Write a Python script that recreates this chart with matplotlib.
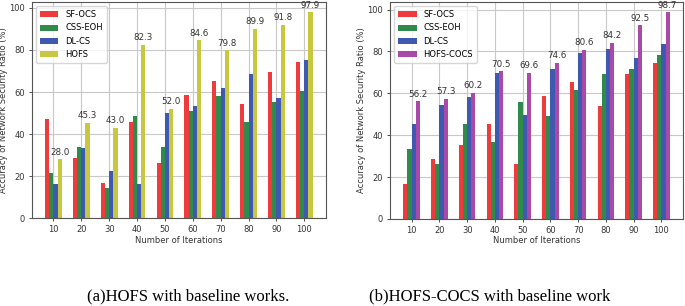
import numpy as np
import matplotlib
matplotlib.use("Agg")
import matplotlib.pyplot as plt

iterations = ["10", "20", "30", "40", "50", "60", "70", "80", "90", "100"]

# (a) HOFS with baseline works
a_sf_ocs = [47.3, 28.8, 16.8, 45.7, 26.3, 58.8, 65.4, 54.4, 69.5, 74.4]
a_css_eoh = [21.6, 33.9, 14.6, 48.4, 33.9, 51.2, 58.3, 45.9, 55.4, 60.7]
a_dl_cs = [16.5, 33.6, 22.5, 16.5, 49.9, 53.4, 61.7, 68.7, 57.0, 75.3]
a_hofs = [28.0, 45.3, 43.0, 82.3, 52.0, 84.6, 79.8, 89.9, 91.8, 97.9]

# (b) HOFS-COCS with baseline work
b_sf_ocs = [16.7, 28.6, 35.3, 45.6, 26.5, 58.8, 65.2, 54.2, 69.1, 74.4]
b_css_eoh = [33.4, 26.1, 45.4, 36.9, 55.9, 49.3, 61.4, 69.3, 71.7, 78.2]
b_dl_cs = [45.3, 54.4, 58.3, 69.5, 49.6, 71.5, 79.5, 81.4, 76.9, 83.6]
b_hofs_cocs = [56.2, 57.3, 60.2, 70.5, 69.6, 74.6, 80.6, 84.2, 92.5, 98.7]

colors = ["#ee3b3b", "#2f8a4c", "#3f58b0", "#c8c840"]
colors_b = ["#ee3b3b", "#2f8a4c", "#3f58b0", "#a94aa8"]

fs = 6


def draw(ax, series, names, cols):
    x = np.arange(len(iterations))
    width = 0.15
    offsets = [-1.5, -0.5, 0.5, 1.5]
    bars = None
    for vals, name, col, off in zip(series, names, cols, offsets):
        bars = ax.bar(x + off * width, vals, width=width, color=col, label=name)
    ax.bar_label(bars, labels=[f"{v:.1f}" for v in series[-1]], padding=2,
                 fontsize=fs + 0.3, color="#333333")
    ax.set_xticks(x, iterations)
    ax.set_ylim(0, max(series[-1]) * 1.05)
    ax.set_yticks([0, 20, 40, 60, 80, 100])
    ax.set_axisbelow(True)
    ax.grid(True, color="#c8c8c8", linewidth=0.8)
    ax.tick_params(labelsize=fs, colors="#333333", length=2.5, width=0.6, pad=2.5)
    for s in ax.spines.values():
        s.set_color("#555555")
        s.set_linewidth(0.8)
    ax.set_xlabel("Number of Iterations", fontsize=fs, color="#333333", labelpad=1)
    ax.set_ylabel("Accuracy of Network Security Ratio (%)", fontsize=fs,
                  color="#333333", labelpad=1)
    ax.legend(loc="upper left", fontsize=fs, handlelength=2.2, borderpad=0.5,
              labelspacing=0.5, framealpha=0.8)


fig = plt.figure(figsize=(6.85, 3.06), dpi=100)
ax1 = fig.add_axes([31.7 / 685, (306 - 218.3) / 306, (326 - 31.7) / 685, 216.3 / 306])
ax2 = fig.add_axes([390 / 685, (306 - 219) / 306, 293 / 685, 217 / 306])

draw(ax1, [a_sf_ocs, a_css_eoh, a_dl_cs, a_hofs],
     ["SF-OCS", "CSS-EOH", "DL-CS", "HOFS"], colors)
draw(ax2, [b_sf_ocs, b_css_eoh, b_dl_cs, b_hofs_cocs],
     ["SF-OCS", "CSS-EOH", "DL-CS", "HOFS-COCS"], colors_b)

fig.text(188 / 685, 1 - 296.5 / 306, "(a)HOFS with baseline works.",
         family="Liberation Serif", fontsize=12, ha="center", va="center")
fig.text(490 / 685, 1 - 296.5 / 306, "(b)HOFS-COCS with baseline work",
         family="Liberation Serif", fontsize=12, ha="center", va="center")

fig.savefig("out.png", dpi=100)
